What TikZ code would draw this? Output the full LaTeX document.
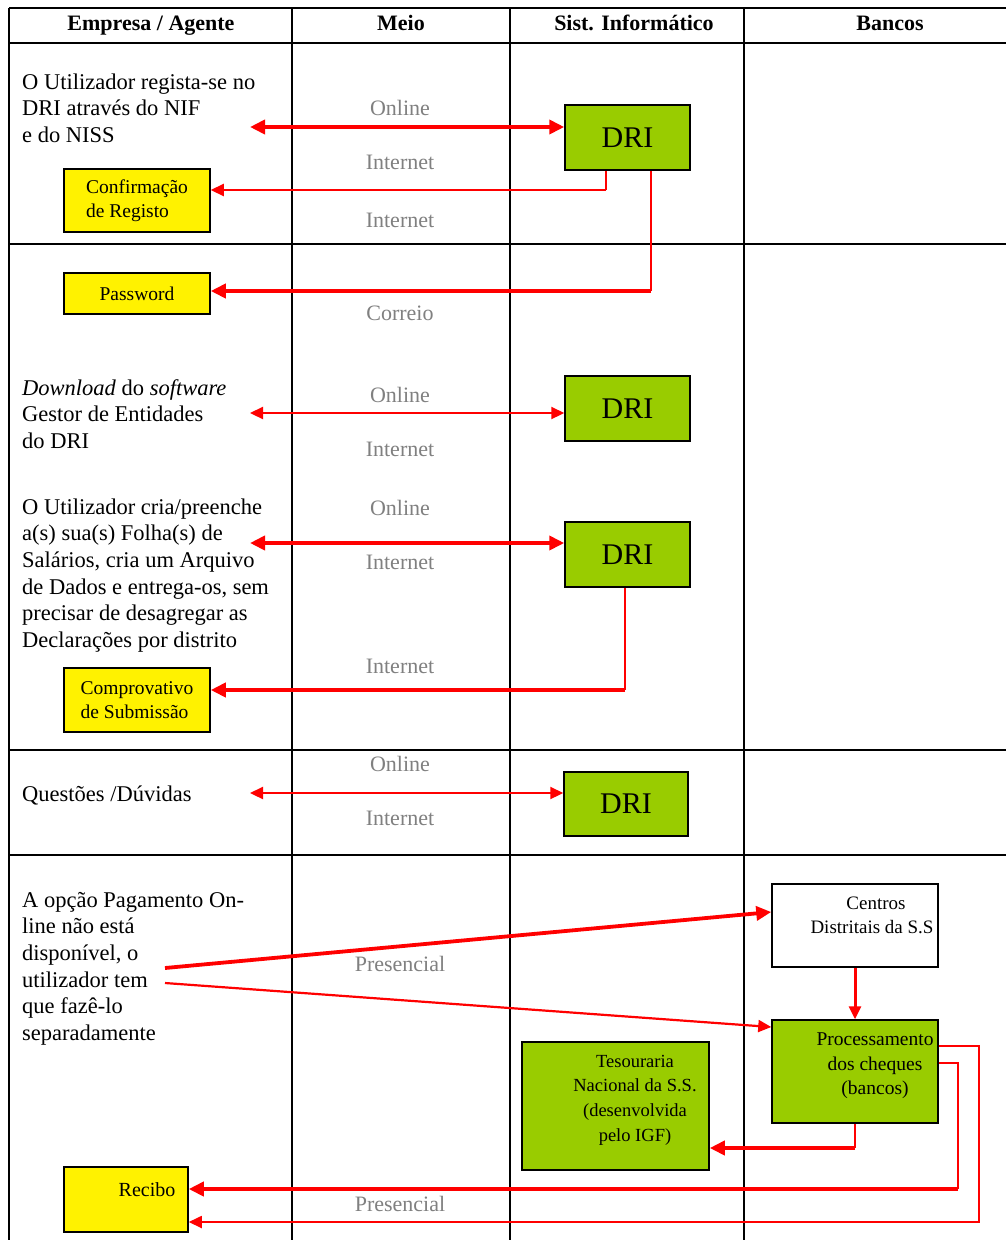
\documentclass[tikz,border=0pt]{standalone}
\usepackage{fontspec}
\setmainfont{Liberation Serif}
\usetikzlibrary{arrows.meta,calc}
\definecolor{dgreen}{HTML}{99CC00}
\definecolor{lgray}{HTML}{808080}
\tikzset{
  grid/.style={line width=1.4pt, black},
  dribox/.style={draw=black, line width=1.5pt, fill=dgreen, minimum width=125pt, minimum height=65pt, inner sep=0pt, font=\fontsize{30}{34}\selectfont},
  ybox/.style={draw=black, line width=1.5pt, fill=yellow, inner sep=0pt, font=\fontsize{19.5}{24}\selectfont, align=left},
  gbox/.style={draw=black, line width=1.5pt, fill=dgreen, inner sep=0pt},
  wbox/.style={draw=black, line width=1.5pt, fill=white, inner sep=0pt},
  boxtxt/.style={inner sep=0pt, align=center, font=\fontsize{19}{24.5}\selectfont},
  lbl/.style={text=lgray, inner sep=0pt, font=\fontsize{22}{26}\selectfont},
  body/.style={anchor=north west, inner sep=0pt, align=left, font=\fontsize{22.5}{26.6}\selectfont},
  head/.style={inner sep=0pt, anchor=base, font=\bfseries\fontsize{22}{24}\selectfont},
  thickar/.style={red, line width=3.8pt, -{Triangle[length=15pt,width=14pt]}},
  medar/.style={red, line width=2.2pt, -{Triangle[length=13pt,width=12pt]}},
  thickdbl/.style={red, line width=3.8pt, {Triangle[length=15pt,width=14pt]}-{Triangle[length=15pt,width=14pt]}},
  meddbl/.style={red, line width=2.2pt, {Triangle[length=13pt,width=12pt]}-{Triangle[length=13pt,width=12pt]}},
  thinred/.style={red, line width=1.2pt},
}
\begin{document}
\begin{tikzpicture}[x=1pt,y=-1pt]
\useasboundingbox (0,0) rectangle (1006,1240);
\fill[white] (0,0) rectangle (1006,1240);

% table grid
\draw[grid] (9,8) -- (1006,8);
\draw[grid] (9,43) -- (1006,43);
\draw[grid] (9,244) -- (1006,244);
\draw[grid] (9,750) -- (1006,750);
\draw[grid] (9,855) -- (1006,855);
\draw[grid] (9,8) -- (9,1240);
\draw[grid] (292,8) -- (292,1240);
\draw[grid] (510,8) -- (510,1240);
\draw[grid] (744,8) -- (744,1240);

% header
\node[head] (h1) at (151,30) {Empresa / Agente};
\node[head] (h2) at (401,30) {Meio};
\node[head] (h3) at (634,30) {Sist. Informático};
\node[head] (h4) at (890,30) {Bancos};

% left texts
\node[body] (t1) at (22,70.5) {\strut O Utilizador regista-se no\\DRI através do NIF\\e do NISS};
\node[body] (t2) at (22,376.5) {\strut\textit{Download} do \textit{software}\\Gestor de Entidades\\do DRI};
\node[body] (t3) at (22,495.5) {\strut O Utilizador cria/preenche\\a(s) sua(s) Folha(s) de\\Salários, cria um Arquivo\\de Dados e entrega-os, sem\\precisar de desagregar as\\Declarações por distrito};
\node[body] (t4) at (22,782.5) {\strut Questões /Dúvidas};
\node[body] (t5) at (22,888.5) {\strut A opção Pagamento On-\\line não está\\disponível, o\\utilizador tem\\que fazê-lo\\separadamente};

% gray labels
\node[lbl] (l1) at (400,108) {Online};
\node[lbl] (l2) at (400,162) {Internet};
\node[lbl] (l3) at (400,220) {Internet};
\node[lbl] (l4) at (400,313) {Correio};
\node[lbl] (l5) at (400,395) {Online};
\node[lbl] (l6) at (400,449) {Internet};
\node[lbl] (l7) at (400,508) {Online};
\node[lbl] (l8) at (400,562) {Internet};
\node[lbl] (l9) at (400,666) {Internet};
\node[lbl] (l10) at (400,764) {Online};
\node[lbl] (l11) at (400,818) {Internet};
\node[lbl] (l12) at (400,964) {Presencial};
\node[lbl] (l13) at (400,1204) {Presencial};

% DRI boxes
\node[dribox] (dri1) at (627.5,137.5) {DRI};
\node[dribox] (dri2) at (627.5,408.5) {DRI};
\node[dribox] (dri3) at (627.5,554.5) {DRI};
\node[dribox, minimum width=124pt, minimum height=64pt] (dri4) at (626,804) {DRI};

% yellow boxes
\node[ybox, minimum width=146pt, minimum height=63pt] (conf) at (137,200.5) {Confirmação\\de Registo};
\node[ybox, minimum width=146pt, minimum height=41pt] (pass) at (137,293.5) {Password};
\node[ybox, minimum width=146pt, minimum height=64pt] (comp) at (137,700) {Comprovativo\\de Submissão};
\node[ybox, minimum width=124pt, minimum height=65pt] (recibo) at (126,1199.5) {};
\node[boxtxt, font=\fontsize{20}{24}\selectfont] (recibotxt) at (147,1190) {Recibo};

% bank-side boxes
\node[wbox, minimum width=166pt, minimum height=83pt] (centros) at (855,925.5) {};
\node[boxtxt] (centrostxt1) at (876,903) {Centros};
\node[boxtxt] (centrostxt2) at (872,927) {Distritais da S.S};
\node[gbox, minimum width=166pt, minimum height=103pt] (proc) at (855,1071.5) {};
\node[boxtxt, font=\fontsize{19.5}{24.5}\selectfont] (proctxt) at (875,1066) {Processamento\\dos cheques\\(bancos)};
\node[gbox, minimum width=187pt, minimum height=128pt] (tes) at (615.5,1106) {};
\node[boxtxt, font=\fontsize{18.5}{24.6}\selectfont] (testxt) at (635,1100) {Tesouraria\\Nacional da S.S.\\(desenvolvida\\pelo IGF)};

% connectors
\coordinate (a1) at (250,127);
\draw[thickdbl] (a1) -- (a1 -| dri1.west);
\coordinate (c2) at (606,190);
\draw[thinred] (c2 |- dri1.south) -- (c2);
\draw[medar] (c2) -- (c2 -| conf.east);
\coordinate (c3) at (651,291);
\draw[thinred] (c3 |- dri1.south) -- (c3);
\draw[thickar] (c3) -- (c3 -| pass.east);

\coordinate (a4) at (250,413);
\draw[meddbl] (a4) -- (a4 -| dri2.west);
\coordinate (a5) at (250,543);
\draw[thickdbl] (a5) -- (a5 -| dri3.west);
\coordinate (c6) at (625,690);
\draw[thinred] (c6 |- dri3.south) -- (c6);
\draw[thickar] (c6) -- (c6 -| comp.east);
\coordinate (a7) at (250,793);
\draw[meddbl] (a7) -- (a7 -| dri4.west);

\coordinate (d1) at (165,968);
\draw[thickar] (d1) -- ([yshift=13.5pt]centros.west);
\coordinate (d2) at (165,983);
\draw[medar] (d2) -- ([yshift=44.5pt]proc.west);
\draw[medar, line width=3pt] (centros.south) -- (proc.north);
\coordinate (c11) at (855,1148);
\draw[thinred] (proc.south) -- (c11);
\draw[thickar] (c11) -- (c11 -| tes.east);
\coordinate (c12a) at (958,1063);
\coordinate (c12b) at (958,1189);
\draw[thinred] (c12a -| proc.east) -- (c12a) -- (c12b);
\draw[thickar] (c12b) -- (c12b -| recibo.east);
\coordinate (c13a) at (979,1046);
\coordinate (c13b) at (979,1222);
\draw[medar, line width=1.8pt] (c13a -| proc.east) -- (c13a) -- (c13b) -- (c13b -| recibo.east);
\end{tikzpicture}
\end{document}
